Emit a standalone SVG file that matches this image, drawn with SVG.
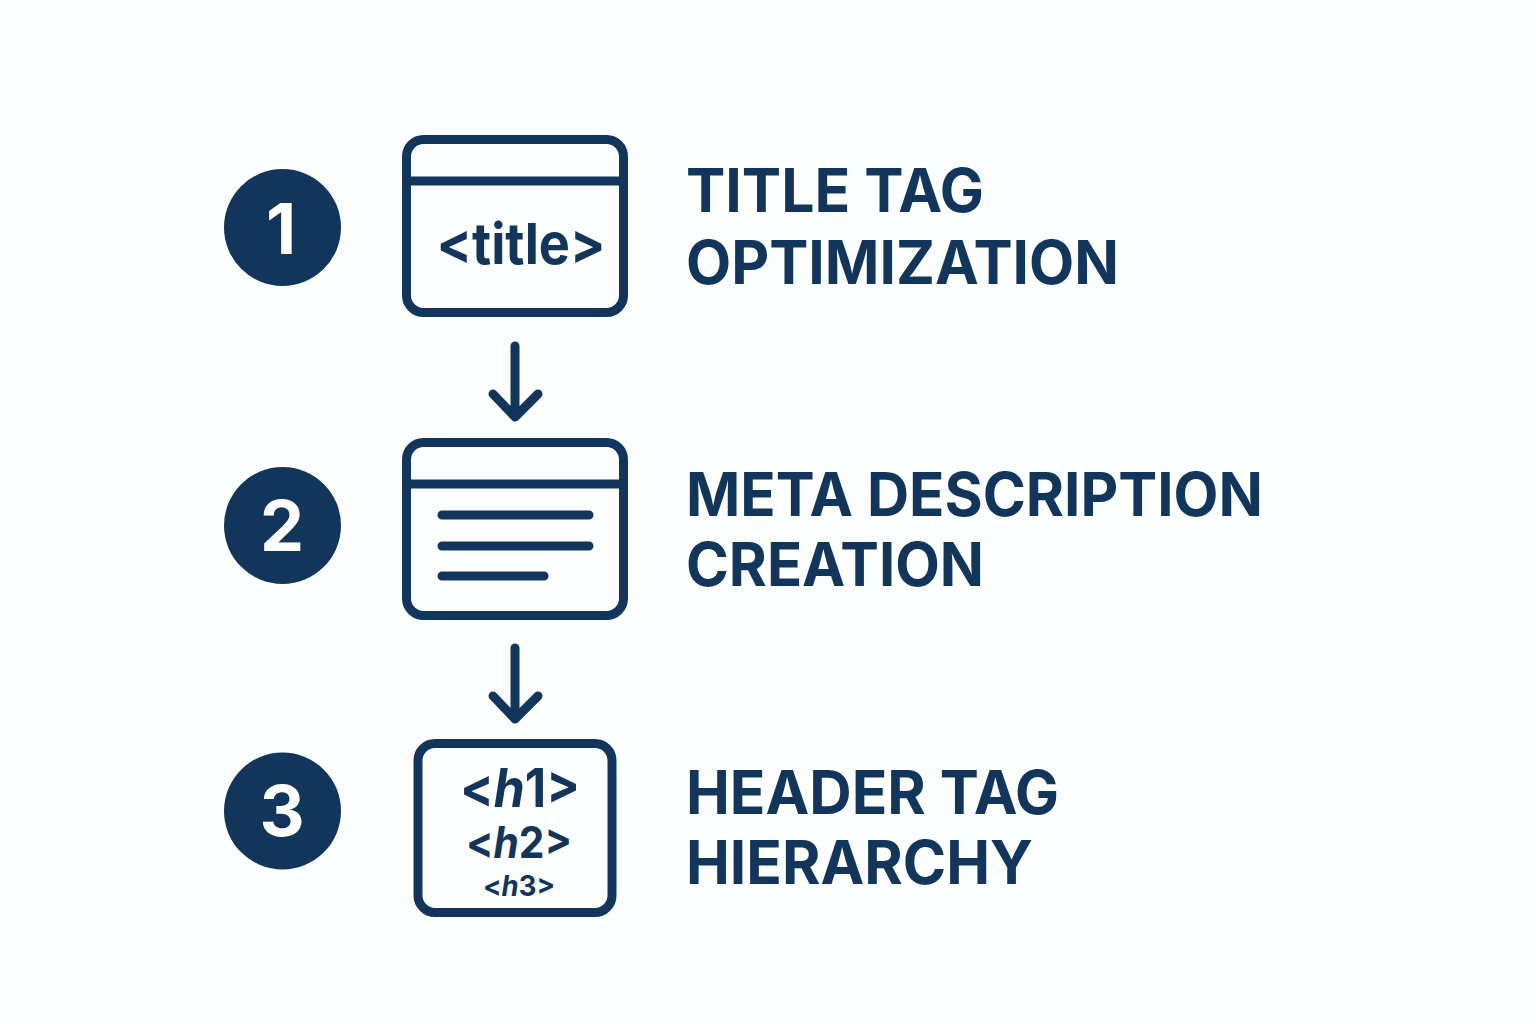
<svg xmlns="http://www.w3.org/2000/svg" width="1536" height="1024" viewBox="0 0 1536 1024">
<style>
.c{fill:#12355b}
.n{fill:#fff;font:700 70px Inter,"Liberation Sans",sans-serif;text-anchor:middle}
.l{fill:#12355b;font:700 61px Inter,"Liberation Sans",sans-serif}
.b{fill:none;stroke:#12355b;stroke-width:9}
.s{fill:none;stroke:#12355b;stroke-width:9;stroke-linecap:round;stroke-linejoin:round}
.t{fill:#12355b;font-family:Inter,"Liberation Sans",sans-serif;font-weight:700}
</style>
<rect width="1536" height="1024" fill="#fdfefe"/>
<g id="badge1"><circle class="c" cx="282.500" cy="227.500" r="58.500"/><text class="n" x="281" y="254">1</text></g>
<g id="badge2"><circle class="c" cx="282.500" cy="525.500" r="58.500"/><text class="n" x="282" y="551">2</text></g>
<g id="badge3"><circle class="c" cx="282.500" cy="811" r="58.500"/><text class="n" x="282" y="836">3</text></g>
<g id="icon1"><rect class="b" x="406.500" y="139.500" width="217" height="173" rx="17"/><line class="b" x1="407" y1="181" x2="623" y2="181"/><text class="t" x="436.500" y="264" font-size="57" textLength="169" lengthAdjust="spacingAndGlyphs">&lt;title&gt;</text></g>
<g id="icon2"><rect class="b" x="406.500" y="442.500" width="217" height="173" rx="17"/><line class="b" x1="407" y1="484" x2="623" y2="484"/><path class="s" d="M442 515H589M442 546H589M442 576H544"/></g>
<g id="icon3"><rect class="b" x="418" y="743.500" width="194" height="169" rx="17"/>
<text class="t" x="460" y="807" font-size="54" textLength="120" lengthAdjust="spacingAndGlyphs">&lt;<tspan font-style="italic">h</tspan>1&gt;</text>
<text class="t" x="466" y="858" font-size="44" textLength="106" lengthAdjust="spacingAndGlyphs">&lt;<tspan font-style="italic">h</tspan>2&gt;</text>
<text class="t" x="483" y="896" font-size="28" textLength="72" lengthAdjust="spacingAndGlyphs">&lt;<tspan font-style="italic">h</tspan>3&gt;</text></g>
<g id="connectors"><path class="s" d="M515 346V417M493 394L515 417L538 394"/><path class="s" d="M515 648V719M493 696L515 719L538 696"/></g>
<g id="label1"><text class="l" x="686" y="212" textLength="298" lengthAdjust="spacingAndGlyphs">TITLE TAG</text><text class="l" x="686" y="284" textLength="433" lengthAdjust="spacingAndGlyphs">OPTIMIZATION</text></g>
<g id="label2"><text class="l" x="686" y="516" textLength="577" lengthAdjust="spacingAndGlyphs">META DESCRIPTION</text><text class="l" x="686" y="586" textLength="298" lengthAdjust="spacingAndGlyphs">CREATION</text></g>
<g id="label3"><text class="l" x="686" y="814" textLength="373" lengthAdjust="spacingAndGlyphs">HEADER TAG</text><text class="l" x="686" y="884" textLength="347" lengthAdjust="spacingAndGlyphs">HIERARCHY</text></g>
</svg>
